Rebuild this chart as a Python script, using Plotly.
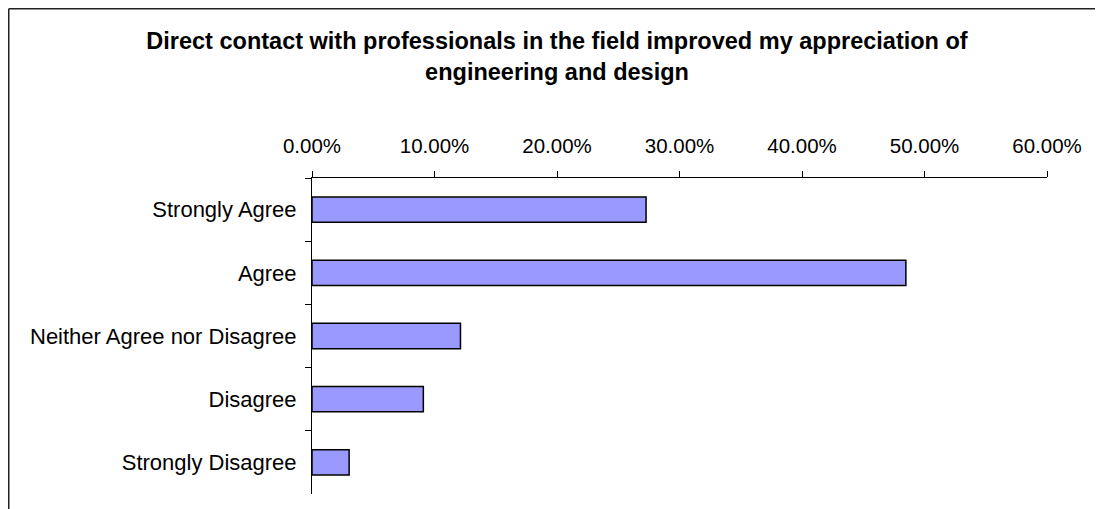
import plotly.graph_objects as go

categories = ["Strongly Agree", "Agree", "Neither Agree nor Disagree", "Disagree", "Strongly Disagree"]
values = [0.2727, 0.4848, 0.1212, 0.0909, 0.0303]
tick_vals = [0, 0.1, 0.2, 0.3, 0.4, 0.5, 0.6]
tick_text = ["0.00%", "10.00%", "20.00%", "30.00%", "40.00%", "50.00%", "60.00%"]
title_text = "Direct contact with professionals in the field improved my appreciation of<br>engineering and design"

# page has an 8px body margin; the chart frame runs past the right/bottom window edges
W, H = 1103, 509
L, R, T, B = 304, 64, 170, 23
pw, ph = W - L - R, H - T - B

FONT = "Liberation Sans, Arial, sans-serif"

fig = go.Figure(go.Bar(
    x=values, y=categories, orientation="h",
    marker=dict(color="#9999FF", line=dict(color="black", width=1.5)),
    width=0.4,
))

frame_x = -(L - 0.75) / pw
frame_y = 1 + (T - 0.75) / ph

fig.update_layout(
    width=W, height=H,
    margin=dict(l=L, r=R, t=T, b=B),
    paper_bgcolor="white", plot_bgcolor="white",
    showlegend=False,
    font=dict(family=FONT, size=20, color="black"),
    title=dict(text="<b>" + title_text + "</b>", x=549 / W, xanchor="center",
               xref="container", y=1 - 41 / H, yanchor="top", yref="container",
               font=dict(family=FONT, size=23.5, color="black")),
    xaxis=dict(side="top", range=[0, 0.6], tickvals=tick_vals, ticktext=tick_text,
               tickfont=dict(size=20.5),
               showline=True, linecolor="black", linewidth=1,
               ticks="outside", ticklen=6, tickcolor="black", tickwidth=1,
               ticklabelstandoff=10,
               showgrid=False, zeroline=False, fixedrange=True),
    yaxis=dict(categoryorder="array", categoryarray=categories, autorange="reversed",
               tickfont=dict(size=22),
               showline=True, linecolor="black", linewidth=1,
               ticks="outside", ticklen=6, tickcolor="black", tickwidth=1,
               ticklabelstandoff=10,
               tickson="boundaries", showgrid=False, zeroline=False, fixedrange=True),
    shapes=[
        dict(type="line", xref="paper", yref="paper", x0=frame_x, x1=frame_x, y0=frame_y, y1=-1,
             line=dict(color="#222222", width=1.5)),
        dict(type="line", xref="paper", yref="paper", x0=frame_x, x1=2, y0=frame_y, y1=frame_y,
             line=dict(color="#222222", width=1.5)),
    ],
)

fig.write_html("out.html", post_script="document.body.style.overflow='hidden';",
               config={"displayModeBar": False})
